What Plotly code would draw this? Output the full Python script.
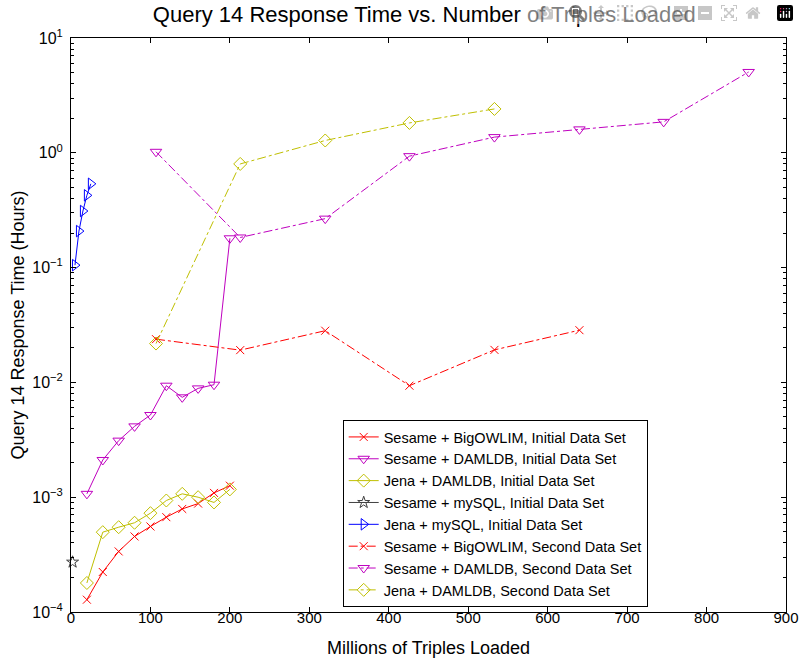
import plotly.graph_objects as go

# ---- data ----
x_init = [20, 40, 60, 80, 100, 120, 140, 160, 180, 200]
bigowlim_init = [1.28e-4, 2.23e-4, 3.37e-4, 4.55e-4, 5.56e-4, 6.7e-4, 7.9e-4, 8.8e-4, 1.09e-3, 1.26e-3]
sesame_damldb_init = [1.07e-3, 2.11e-3, 3.11e-3, 4.14e-3, 5.2e-3, 9.36e-3, 7.41e-3, 8.87e-3, 9.55e-3, 0.180]
jena_damldb_init = [1.79e-4, 4.96e-4, 5.48e-4, 5.99e-4, 7.26e-4, 9.36e-4, 1.07e-3, 1.0e-3, 9.0e-4, 1.17e-3]
x_sesame_mysql = [2]
sesame_mysql_init = [2.72e-4]
x_jena_mysql = [5, 10, 15, 20, 25]
jena_mysql_init = [0.105, 0.208, 0.311, 0.426, 0.537]

x_second = [107, 213, 320, 426, 533, 640, 746, 853]
bigowlim_second = [0.0238, 0.0191, 0.0282, 0.00936, 0.0192, 0.0285]
sesame_damldb_second = [1.02, 0.183, 0.267, 0.935, 1.37, 1.60, 1.86, 5.06]
jena_damldb_second = [0.0218, 0.80, 1.28, 1.82, 2.41]

y_tickvals = [1e-4, 1e-3, 1e-2, 1e-1, 1e0, 1e1]
y_ticktext = ["10<sup>\u22124</sup>", "10<sup>\u22123</sup>", "10<sup>\u22122</sup>",
              "10<sup>\u22121</sup>", "10<sup>0</sup>", "10<sup>1</sup>"]

RED = "#ff0000"
MAG = "#bf00bf"
YEL = "#bfbf00"
GRY = "#404040"
BLU = "#0000ff"

fig = go.Figure()

def add(name, xs, ys, color, symbol, dash, size=10):
    fig.add_trace(go.Scatter(
        x=xs, y=ys, name=name, mode="lines+markers", cliponaxis=False,
        line=dict(color=color, width=1, dash=dash),
        marker=dict(symbol=symbol, size=size, color=color,
                    line=dict(color=color, width=1)),
    ))

add("Sesame + BigOWLIM, Initial Data Set", x_init, bigowlim_init, RED, "x-thin-open", "solid", 8)
add("Sesame + DAMLDB, Initial Data Set", x_init, sesame_damldb_init, MAG, "triangle-down-open", "solid")
add("Jena + DAMLDB, Initial Data Set", x_init, jena_damldb_init, YEL, "diamond-open", "solid")
add("Sesame + mySQL, Initial Data Set", x_sesame_mysql, sesame_mysql_init, GRY, "star-open", "solid", 9)
add("Jena + mySQL, Initial Data Set", x_jena_mysql, jena_mysql_init, BLU, "triangle-right-open", "solid")
add("Sesame + BigOWLIM, Second Data Set", x_second[:len(bigowlim_second)], bigowlim_second, RED, "x-thin-open", "dashdot", 8)
add("Sesame + DAMLDB, Second Data Set", x_second[:len(sesame_damldb_second)], sesame_damldb_second, MAG, "triangle-down-open", "dashdot")
add("Jena + DAMLDB, Second Data Set", x_second[:len(jena_damldb_second)], jena_damldb_second, YEL, "diamond-open", "dashdot")

FONT = "Liberation Sans, Arial, Helvetica, sans-serif"

# the page's default body margin is removed in post_script, so the figure fills the window
fig.update_layout(
    width=799, height=659,
    margin=dict(l=71, r=13, t=38, b=47),
    paper_bgcolor="white", plot_bgcolor="white",
    font=dict(family=FONT, size=15, color="black"),
    title=dict(text="Query 14 Response Time vs. Number of Triples Loaded",
               x=0.531, xanchor="center", xref="container",
               y=1, yanchor="top", yref="container", pad=dict(t=7),
               font=dict(size=22, family=FONT, color="black")),
    showlegend=True,
    legend=dict(x=0.380, y=0.3345, xanchor="left", yanchor="top",
                bgcolor="white", bordercolor="black", borderwidth=1,
                font=dict(size=14.5, family=FONT), tracegroupgap=0),
)
fig.update_xaxes(
    range=[0, 900], tickmode="linear", tick0=0, dtick=100, automargin=False,
    ticks="inside", ticklen=5, tickcolor="black", ticklabelstandoff=-8,
    tickfont=dict(size=15), ticklabeloverflow="allow",
    showline=True, linecolor="black", linewidth=1, mirror="allticks",
    showgrid=False, zeroline=False,
    title=dict(text="Millions of Triples Loaded", font=dict(size=18), standoff=16),
)
fig.update_yaxes(
    type="log", range=[-4, 1], tickmode="array", automargin=False,
    tickvals=y_tickvals, ticktext=y_ticktext,
    ticks="inside", ticklen=5, tickcolor="black", ticklabelstandoff=4,
    tickfont=dict(size=16),
    showline=True, linecolor="black", linewidth=1, mirror="allticks",
    showgrid=False, zeroline=False,
    minor=dict(ticks="inside", ticklen=3, tickcolor="black", showgrid=False,
               tickvals=[m * 10.0 ** e for e in range(-4, 1) for m in range(2, 10)]),
    title=dict(text="Query 14 Response Time (Hours)", font=dict(size=18), standoff=2),
)

fig.write_html(
    "out.html",
    post_script="document.body.style.margin='0';document.body.style.overflow='hidden';",
)
